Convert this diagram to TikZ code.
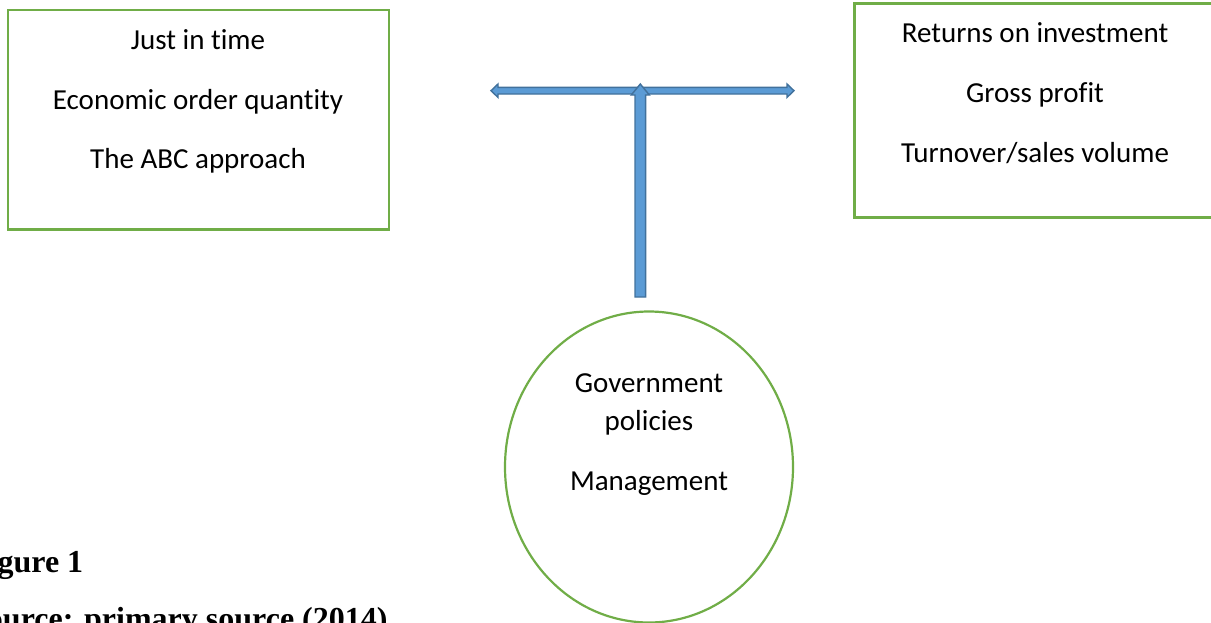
\documentclass[tikz,border=0pt]{standalone}
\usepackage{fontspec}
\usetikzlibrary{shapes.geometric,calc}
\setmainfont{Carlito}[Ligatures={NoCommon}]
\newfontfamily\capfont{Liberation Serif}
\definecolor{boxgreen}{HTML}{70AD47}
\definecolor{arrowfill}{HTML}{5B9BD5}
\definecolor{arrowline}{HTML}{41719C}
\begin{document}
\begin{tikzpicture}[x=1pt,y=-1pt,
  frame/.style={draw=boxgreen,line width=2.2pt},
  txt/.style={inner sep=0pt,anchor=base,font=\fontsize{29}{35}\selectfont},
  captext/.style={inner sep=0pt,anchor=base west,font=\capfont\bfseries\fontsize{32}{38}\selectfont},
  blockarrow/.style={fill=arrowfill,draw=arrowline,line width=1.4pt,line join=miter}]
\useasboundingbox (0,0) rectangle (1211,622);
\clip (0,0) rectangle (1211,622);
% boxes
\draw[frame] (8,10) rectangle (389,229.5) coordinate (lbox);
\draw[frame] (854.5,3.5) rectangle (1230,217.5) coordinate (rbox);
\node[frame,ellipse,minimum width=288pt,minimum height=311pt,inner sep=0pt] (circ) at (649,467) {};
% left texts
\node[txt] (l1) at (198,49) {Just in time};
\node[txt] (l2) at (198,109) {Economic order quantity};
\node[txt] (l3) at (198,168.5) {The ABC approach};
% right texts
\node[txt] (r1) at (1035,42) {Returns on investment};
\node[txt] (r2) at (1035,102) {Gross profit};
\node[txt] (r3) at (1035,162) {Turnover/sales volume};
% circle texts
\node[txt] (c1) at (649,392.5) {Government};
\node[txt] (c2) at (649,430) {policies};
\node[txt] (c3) at (649,490.5) {Management};
% arrows
\coordinate (hl) at (491,90.7);
\coordinate (hr) at (794,90.7);
\coordinate (vt) at (640.3,84);
\coordinate (vb) at (640.3,297);
\draw[blockarrow] (hl) -- ++(7,-6.7) -- ++(0,3.4) -- ($(hr)+(-7,-3.3)$) -- ++(0,-3.4) -- (hr) -- ++(-7,6.7) -- ++(0,-3.4) -- ($(hl)+(7,3.3)$) -- ++(0,3.4) -- cycle;
\draw[blockarrow] (vt) -- ++(9,11) -- ++(-3.7,0) -- ($(vb)+(5.3,0)$) -- ++(-10.6,0) -- ($(vt)+(-5.3,11)$) -- ++(-3.7,0) -- cycle;
% caption
\node[captext] (fig) at (-31,572.5) {Figure 1};
\node[captext] (src) at (-31,629) {Source: primary source (2014)};
\end{tikzpicture}
\end{document}
